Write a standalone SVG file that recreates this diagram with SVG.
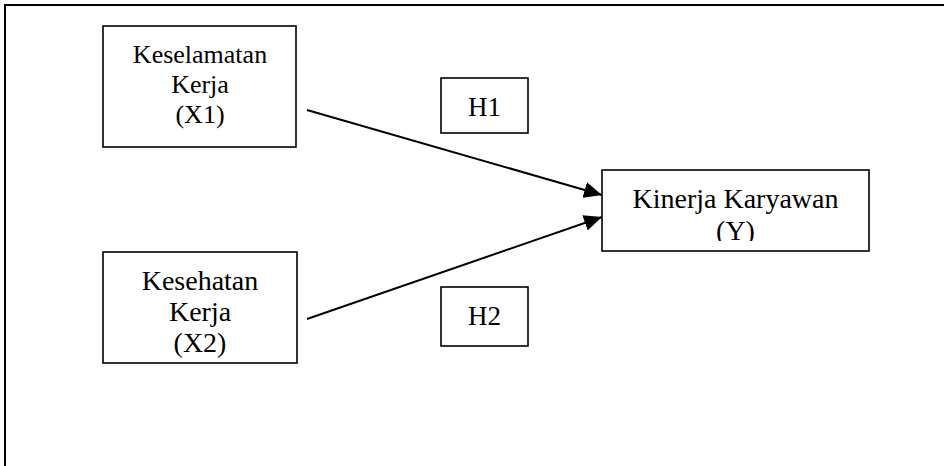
<svg xmlns="http://www.w3.org/2000/svg" width="944" height="466" viewBox="0 0 944 466">
<style>
.box{fill:#fff;stroke:#000;stroke-width:1.6}
.t{font-family:"Liberation Serif","Times New Roman",serif;fill:#000;text-anchor:middle}
.ln{stroke:#000;stroke-width:2;fill:none}
</style>
<defs>
<marker id="ah" markerUnits="userSpaceOnUse" markerWidth="19" markerHeight="16" refX="18" refY="8" orient="auto">
<path d="M0,0 L18,8 L0,16 Z" fill="#000"/>
</marker>
<clipPath id="clipY"><rect x="602" y="170" width="267" height="71"/></clipPath>
</defs>
<rect x="0" y="0" width="944" height="466" fill="#fff"/>
<rect id="frame" x="5" y="5" width="1000" height="1000" fill="none" stroke="#000" stroke-width="2"/>
<g id="connectors">
<line class="ln" x1="307" y1="110" x2="602" y2="195" marker-end="url(#ah)"/>
<line class="ln" x1="307" y1="319" x2="602" y2="217" marker-end="url(#ah)"/>
</g>
<g id="x1">
<rect class="box" x="103" y="26" width="193" height="121"/>
<text class="t" font-size="26" x="200" y="63">Keselamatan</text>
<text class="t" font-size="26" x="200" y="93">Kerja</text>
<text class="t" font-size="26" x="200" y="123">(X1)</text>
</g>
<g id="x2">
<rect class="box" x="103" y="252" width="194" height="111"/>
<text class="t" font-size="28" x="200" y="290">Kesehatan</text>
<text class="t" font-size="28" x="200" y="321">Kerja</text>
<text class="t" font-size="28" x="200" y="352">(X2)</text>
</g>
<g id="y">
<rect class="box" x="602" y="170" width="267" height="81"/>
<g clip-path="url(#clipY)">
<text class="t" font-size="28" x="735.5" y="208">Kinerja Karyawan</text>
<text class="t" font-size="28" x="735.5" y="240">(Y)</text>
</g>
</g>
<g id="h1">
<rect class="box" x="441" y="78" width="87" height="55"/>
<text class="t" font-size="27" x="484.5" y="116">H1</text>
</g>
<g id="h2">
<rect class="box" x="441" y="287" width="87" height="59"/>
<text class="t" font-size="27" x="484.5" y="325">H2</text>
</g>
</svg>
